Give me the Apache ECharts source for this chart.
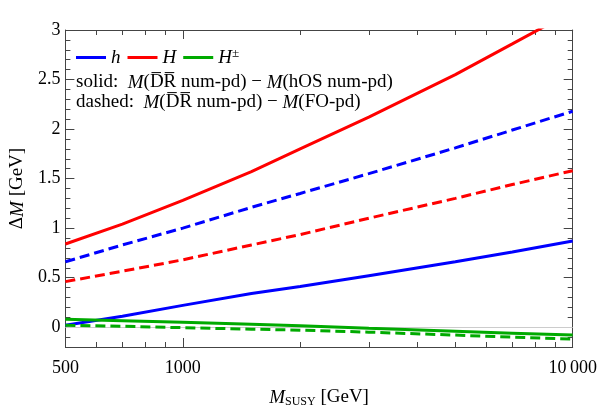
<!DOCTYPE html>
<html>
<head>
<meta charset="utf-8">
<script src="https://cdn.jsdelivr.net/npm/echarts@6/dist/echarts.min.js"></script>
<style>
  html, body { margin: 0; padding: 0; background: #fff; }
  #chart { width: 600px; height: 415px; }
</style>
</head>
<body>
<div id="chart"></div>
<script>
// M_SUSY sample points [GeV]
const msusy = [500, 700, 1000, 1500, 2000, 3000, 5000, 7000, 10000];

// solid: M(DR num-pd) - M(hOS num-pd)
const hSolid = [0.02, 0.11, 0.22, 0.34, 0.41, 0.52, 0.66, 0.76, 0.87];
const HSolid = [0.84, 1.04, 1.28, 1.57, 1.80, 2.12, 2.55, 2.86, 3.19];
const HpSolid = [0.08, 0.065, 0.05, 0.03, 0.015, -0.01, -0.04, -0.06, -0.08];

// dashed: M(DR num-pd) - M(FO-pd)
const hDashed = [0.66, 0.83, 1.0, 1.21, 1.35, 1.55, 1.81, 1.99, 2.18];
const HDashed = [0.46, 0.565, 0.68, 0.83, 0.935, 1.1, 1.3, 1.44, 1.58];
const HpDashed = [0.02, 0.01, -0.005, -0.02, -0.03, -0.05, -0.08, -0.1, -0.12];

// ticks
const xLabelTicks = [500, 1000, 10000];
const xMinorTicks = [600, 700, 800, 900, 2000, 3000, 4000, 5000, 6000, 7000, 8000, 9000];
const yLabelTicks = [0, 0.5, 1, 1.5, 2, 2.5, 3];
const yMinorTicks = [-0.2, -0.1, 0.1, 0.2, 0.3, 0.4, 0.6, 0.7, 0.8, 0.9, 1.1, 1.2, 1.3, 1.4,
  1.6, 1.7, 1.8, 1.9, 2.1, 2.2, 2.3, 2.4, 2.6, 2.7, 2.8, 2.9];

const serif = "Liberation Serif";
const frameColor = "#444";
const blue = "#0000ff", red = "#ff0000", green = "#00aa00";

function pairs(ys) {
  return msusy.map((m, i) => [m, ys[i]]);
}

function line(name, ys, color, dashed) {
  return {
    name: name,
    type: "line",
    data: pairs(ys),
    xAxisIndex: 0,
    yAxisIndex: 0,
    symbol: "none",
    smooth: false,
    clip: true,
    lineStyle: { color: color, width: 3, type: dashed ? [10, 5] : "solid" },
    itemStyle: { color: color },
  };
}

function xAx(pos, major) {
  return {
    type: "log",
    logBase: 10,
    position: pos,
    min: 500,
    max: 10000,
    axisLine: { show: major, onZero: false, lineStyle: { color: frameColor, width: 1 } },
    axisTick: {
      show: true,
      inside: true,
      length: major ? 9 : 5,
      customValues: major ? xLabelTicks : xMinorTicks,
      lineStyle: { color: frameColor, width: 1 },
    },
    axisLabel: {
      show: major && pos === "bottom",
      customValues: xLabelTicks,
      margin: 12,
      fontFamily: serif,
      fontSize: 18,
      color: "#000",
      formatter: (v) => (v >= 10000 ? "10\u2009000" : String(v)),
    },
    splitLine: { show: false },
    minorTick: { show: false },
  };
}

function yAx(pos, major) {
  return {
    type: "value",
    position: pos,
    min: -0.2,
    max: 3,
    axisLine: { show: major, onZero: false, lineStyle: { color: frameColor, width: 1 } },
    axisTick: {
      show: true,
      inside: true,
      length: major ? 9 : 5,
      customValues: major ? yLabelTicks : yMinorTicks,
      lineStyle: { color: frameColor, width: 1 },
    },
    axisLabel: {
      show: major && pos === "left",
      customValues: yLabelTicks,
      margin: 5,
      fontFamily: serif,
      fontSize: 18,
      color: "#000",
    },
    splitLine: { show: false },
  };
}

const xAxes = [xAx("bottom", true), xAx("top", true), xAx("bottom", false), xAx("top", false)];
xAxes[0].name = "{i|M}{sub|SUSY}{t| [GeV]}";
xAxes[0].nameLocation = "middle";
xAxes[0].nameGap = 40;
xAxes[0].nameTextStyle = {
  rich: {
    i: { fontFamily: serif, fontStyle: "italic", fontSize: 19, color: "#000" },
    sub: { fontFamily: serif, fontSize: 12, color: "#000", padding: [9, 0, 0, 0] },
    t: { fontFamily: serif, fontSize: 19, color: "#000" },
  },
};

const yAxes = [yAx("left", true), yAx("right", true), yAx("left", false), yAx("right", false)];
yAxes[0].name = "{t|\u0394}{i|M}{t| [GeV]}";
yAxes[0].nameLocation = "middle";
yAxes[0].nameGap = 36;
yAxes[0].nameRotate = 90;
yAxes[0].nameTextStyle = {
  rich: {
    i: { fontFamily: serif, fontStyle: "italic", fontSize: 19, color: "#000" },
    t: { fontFamily: serif, fontSize: 19, color: "#000" },
  },
};

const hSolidSeries = line("h", hSolid, blue, false);
hSolidSeries.markLine = {
  silent: true,
  symbol: "none",
  label: { show: false },
  lineStyle: { color: "#cccccc", width: 1, type: "solid" },
  data: [{ yAxis: 0 }],
  z: 1,
};

const option = {
  animation: false,
  backgroundColor: "#fff",
  grid: { left: 62, right: 24, top: 30, bottom: 68, containLabel: false },
  legend: {
    data: ["h", "H", "H\u00b1"],
    left: 76,
    top: 47,
    icon: "rect",
    itemWidth: 30,
    itemHeight: 3,
    itemGap: 7,
    padding: 0,
    textStyle: {
      fontFamily: serif,
      fontSize: 19,
      fontStyle: "italic",
      color: "#000",
      rich: {
        i: { fontFamily: serif, fontSize: 19, fontStyle: "italic", color: "#000" },
        s: { fontFamily: serif, fontSize: 13, color: "#000", padding: [0, 0, 8, 0] },
      },
    },
    formatter: (name) => (name === "H\u00b1" ? "{i|H}{s|\u00b1}" : "{i|" + name + "}"),
  },
  graphic: [
    {
      type: "text",
      left: 76,
      top: 73,
      style: {
        text: "{t|solid:  }{i|M}{t|(D\u0305R\u0305 num-pd) \u2212 }{i|M}{t|(hOS num-pd)}",
        rich: {
          t: { fontFamily: serif, fontSize: 19, fill: "#000" },
          i: { fontFamily: serif, fontSize: 19, fontStyle: "italic", fill: "#000" },
        },
      },
    },
    {
      type: "text",
      left: 76,
      top: 93,
      style: {
        text: "{t|dashed:  }{i|M}{t|(D\u0305R\u0305 num-pd) \u2212 }{i|M}{t|(FO-pd)}",
        rich: {
          t: { fontFamily: serif, fontSize: 19, fill: "#000" },
          i: { fontFamily: serif, fontSize: 19, fontStyle: "italic", fill: "#000" },
        },
      },
    },
  ],
  xAxis: xAxes,
  yAxis: yAxes,
  series: [
    hSolidSeries,
    line("H", HSolid, red, false),
    line("H\u00b1", HpSolid, green, false),
    line("h", hDashed, blue, true),
    line("H", HDashed, red, true),
    line("H\u00b1", HpDashed, green, true),
  ],
};

const chart = echarts.init(document.getElementById("chart"), null, { renderer: "canvas" });
chart.setOption(option);
</script>
</body>
</html>
